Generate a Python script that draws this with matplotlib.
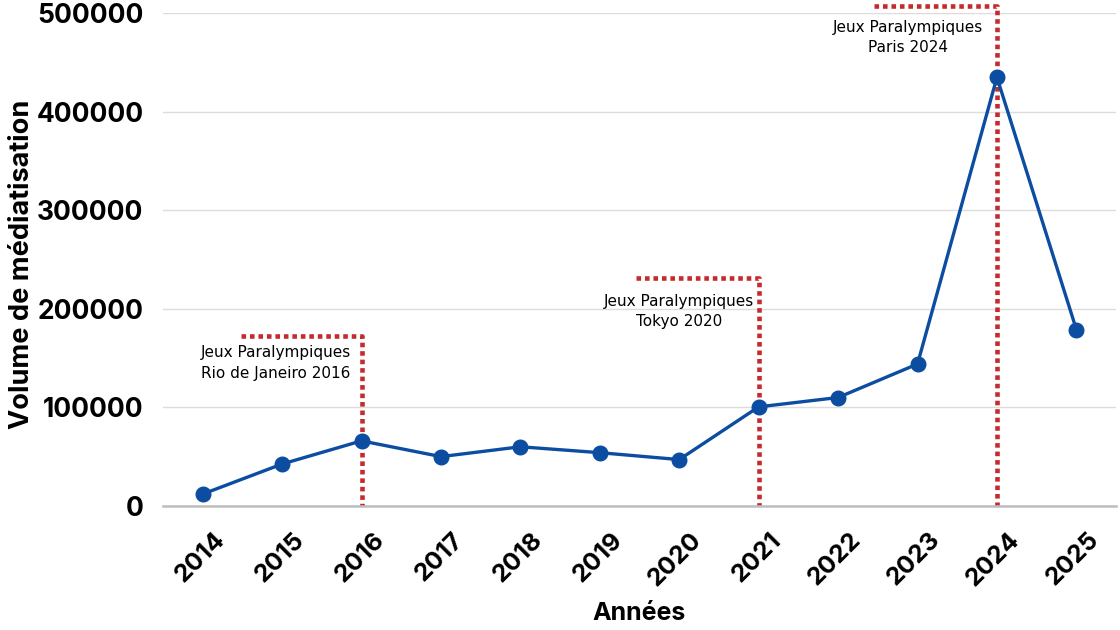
import matplotlib
matplotlib.use("Agg")
import matplotlib.pyplot as plt
from matplotlib.transforms import ScaledTranslation

years = [2014, 2015, 2016, 2017, 2018, 2019, 2020, 2021, 2022, 2023, 2024, 2025]
volume = [12000, 42500, 66000, 50000, 60000, 54000, 47000, 100500, 110000, 144000, 435000, 179000]

# event markers: (year, top of the red bracket, start of the horizontal part)
event_years = [2016, 2021, 2024]
event_tops = [172000, 231000, 507000]
event_starts = [2014.48, 2019.45, 2022.45]
event_labels = ["Jeux Paralympiques\nRio de Janeiro 2016",
                "Jeux Paralympiques\nTokyo 2020",
                "Jeux Paralympiques\nParis 2024"]
label_x = [2014.92, 2020.0, 2022.88]
label_y = [145000, 197000, 475500]

BLUE = "#0c4da2"
RED = "#c62a2f"

def main():
    plt.rcParams['font.family'] = ['Inter', 'DejaVu Sans']
    fig = plt.figure(figsize=(11.2, 6.3), dpi=100)
    ax = fig.add_axes([0.1455, 0.197, 0.851, 0.782])

    ax.set_xlim(2013.5, 2025.5)
    ax.set_ylim(0, 500000)
    ax.set_yticks([0, 100000, 200000, 300000, 400000, 500000])
    ax.set_xticks(years)
    ax.grid(axis='y', color='#dcdcdc', linewidth=1)
    ax.set_axisbelow(True)
    for s in ['left', 'right', 'top']:
        ax.spines[s].set_visible(False)
    ax.spines['bottom'].set_color('#bdbdbd')
    ax.spines['bottom'].set_linewidth(1.8)
    ax.tick_params(axis='both', length=0)
    ax.tick_params(axis='y', pad=14, labelsize=19)
    ax.tick_params(axis='x', pad=16, labelsize=18)
    for lab in ax.get_yticklabels():
        lab.set_fontweight('bold')
    for lab in ax.get_xticklabels():
        lab.set_fontweight('bold')
        lab.set_rotation(45)
        lab.set_ha('right')
        lab.set_va('top')
        lab.set_rotation_mode('anchor')
        lab.set_transform(lab.get_transform() + ScaledTranslation(0.11, 0, fig.dpi_scale_trans))

    # red dotted brackets
    for yr, top, x0 in zip(event_years, event_tops, event_starts):
        ax.plot([x0, yr, yr], [top, top, 0], color=RED, linewidth=3.3,
                linestyle=(0, (1.0, 0.85)), dash_capstyle='butt', clip_on=False, zorder=2)

    ax.plot(years, volume, color=BLUE, linewidth=2.4, marker='o', markersize=10.5, zorder=3)

    for txt, x, y in zip(event_labels, label_x, label_y):
        ax.text(x, y, txt, ha='center', va='center', fontsize=11,
                family=['DejaVu Sans'], linespacing=1.45, zorder=4)

    ax.set_ylabel("Volume de médiatisation", fontsize=19.5, fontweight='bold')
    ax.yaxis.set_label_coords(-0.134, 0.49)
    ax.set_xlabel("Années", fontsize=18, fontweight='bold', labelpad=8)

    fig.savefig("out.png", dpi=100)

if __name__ == '__main__':
    main()
